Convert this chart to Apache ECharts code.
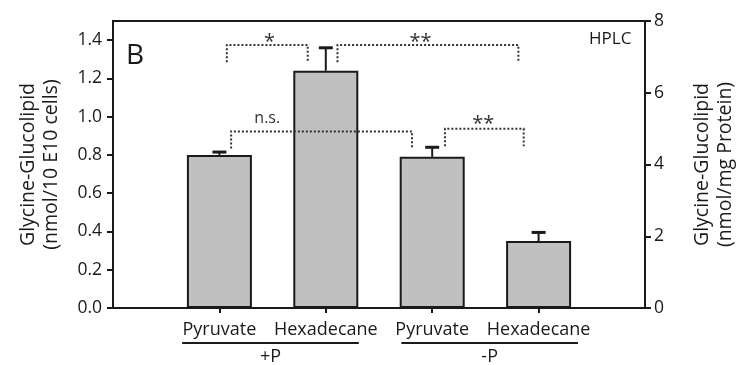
<!DOCTYPE html>
<html>
<head>
<meta charset="utf-8">
<script src="https://cdn.jsdelivr.net/npm/echarts@6/dist/echarts.min.js"></script>
<style>
  html, body { margin: 0; padding: 0; background: #fff; }
  #chart { width: 745px; height: 365px; }
</style>
</head>
<body>
<div id="chart"></div>
<script>
// Glycine-glucolipid content measured by HPLC, +P / -P conditions
const categories = ['Pyruvate', 'Hexadecane', 'Pyruvate', 'Hexadecane'];
const categoryPositions = [1, 2, 3, 4];
const meanValues = [0.80, 1.24, 0.79, 0.35];
const errorValues = [0.015, 0.12, 0.05, 0.045];

const groupNames = ['+P', '-P'];
const groupSpans = [[0.65, 2.31], [2.71, 4.37]];

const leftTicks = [0, 0.2, 0.4, 0.6, 0.8, 1.0, 1.2, 1.4];
const rightTicks = [0, 2, 4, 6, 8];

// significance brackets: x span, bracket level, leg end, label and its anchor
const bracketX0 = [1.07, 2.11, 1.11, 3.12];
const bracketX1 = [1.83, 3.81, 2.81, 3.86];
const bracketTop = [1.375, 1.375, 0.923, 0.937];
const bracketFoot = [1.284, 1.284, 0.833, 0.845];
const bracketLabels = ['*', '**', 'n.s.', '**'];
const bracketLabelX = [1.47, 2.89, 1.45, 3.48];
const bracketLabelY = [1.387, 1.387, 0.992, 0.958];

const FONT = 'Open Sans';
const INK = '#1a1a1a';

const chart = echarts.init(document.getElementById('chart'), null, { renderer: 'canvas' });

const barData = categoryPositions.map((x, i) => [x, meanValues[i]]);
const errData = categoryPositions.map((x, i) => [x, meanValues[i], errorValues[i]]);
const bracketData = bracketLabels.map((lab, i) => [bracketX0[i], bracketX1[i], bracketTop[i], bracketFoot[i], bracketLabelX[i], bracketLabelY[i], i]);
const groupData = groupNames.map((g, i) => [groupSpans[i][0], groupSpans[i][1], i]);

chart.setOption({
  animation: false,
  backgroundColor: '#fff',
  textStyle: { fontFamily: FONT, color: INK },
  grid: {
    left: 113, right: 91, top: 21, bottom: 57,
    show: true, borderColor: INK, borderWidth: 2, backgroundColor: 'transparent'
  },
  xAxis: {
    type: 'value', min: 0, max: 5,
    splitLine: { show: false },
    axisLine: { show: true, lineStyle: { color: INK, width: 2 } },
    axisTick: { show: true, customValues: categoryPositions, length: 5, lineStyle: { color: INK, width: 2 } },
    axisLabel: {
      customValues: categoryPositions, margin: 13,
      fontFamily: FONT, fontSize: 18, color: INK,
      formatter: v => categories[Math.round(v) - 1] || ''
    }
  },
  yAxis: [
    {
      type: 'value', min: 0, max: 1.5, position: 'left',
      splitLine: { show: false },
      axisLine: { show: true, lineStyle: { color: INK, width: 2 } },
      axisTick: { show: true, customValues: leftTicks, length: 6, lineStyle: { color: INK, width: 2 } },
      axisLabel: {
        customValues: leftTicks, margin: 11,
        fontFamily: FONT, fontSize: 17.5, color: INK,
        formatter: v => v.toFixed(1)
      },
      name: 'Glycine-Glucolipid\n(nmol/10 E10 cells)',
      nameLocation: 'middle', nameRotate: 90, nameGap: 50,
      nameTextStyle: { fontFamily: FONT, fontSize: 19.5, color: INK, lineHeight: 23 }
    },
    {
      type: 'value', min: 0, max: 8, interval: 2, position: 'right',
      splitLine: { show: false },
      axisLine: { show: true, lineStyle: { color: INK, width: 2 } },
      axisTick: { show: true, length: 6, lineStyle: { color: INK, width: 2 } },
      axisLabel: { margin: 9, fontFamily: FONT, fontSize: 17.5, color: INK },
      name: 'Glycine-Glucolipid\n(nmol/mg Protein)',
      nameLocation: 'middle', nameRotate: 90, nameGap: 46,
      nameTextStyle: { fontFamily: FONT, fontSize: 19.5, color: INK, lineHeight: 23 }
    }
  ],
  graphic: [
    { type: 'text', left: 126, top: 42, style: { text: 'B', fontFamily: FONT, fontSize: 28, fill: INK } },
    { type: 'text', left: 589, top: 31, style: { text: 'HPLC', fontFamily: FONT, fontSize: 17, fill: INK } }
  ],
  series: [
    {
      type: 'bar', data: barData, barWidth: 65, yAxisIndex: 0,
      itemStyle: { color: '#c0c0c0', borderColor: INK, borderWidth: 2 },
      z: 2
    },
    {
      type: 'custom', yAxisIndex: 0, data: errData, z: 3,
      renderItem: (params, api) => {
        const x = api.value(0), m = api.value(1), e = api.value(2);
        const base = api.coord([x, m]);
        const top = api.coord([x, m + e]);
        return {
          type: 'group',
          children: [
            { type: 'line', shape: { x1: base[0], y1: base[1], x2: top[0], y2: top[1] }, style: { stroke: INK, lineWidth: 2 } },
            { type: 'line', shape: { x1: top[0] - 7, y1: top[1], x2: top[0] + 7, y2: top[1] }, style: { stroke: INK, lineWidth: 3 } }
          ]
        };
      }
    },
    {
      type: 'custom', yAxisIndex: 0, data: bracketData, z: 4, clip: false,
      renderItem: (params, api) => {
        const i = api.value(6);
        const a = api.coord([api.value(0), api.value(3)]);
        const b = api.coord([api.value(0), api.value(2)]);
        const c = api.coord([api.value(1), api.value(2)]);
        const d = api.coord([api.value(1), api.value(3)]);
        const t = api.coord([api.value(4), api.value(5)]);
        const isStar = bracketLabels[i].indexOf('*') === 0;
        return {
          type: 'group',
          children: [
            {
              type: 'polyline',
              shape: { points: [a, b, c, d] },
              style: { stroke: '#333', lineWidth: 2, lineDash: [2, 2], fill: null }
            },
            {
              type: 'text',
              style: {
                x: t[0], y: t[1], text: bracketLabels[i],
                align: 'center', verticalAlign: 'middle',
                fontFamily: FONT, fontSize: isStar ? 20 : 16, fill: '#333'
              }
            }
          ]
        };
      }
    },
    {
      type: 'custom', yAxisIndex: 0, data: groupData, z: 4, clip: false,
      renderItem: (params, api) => {
        const i = api.value(2);
        const p0 = api.coord([api.value(0), 0]);
        const p1 = api.coord([api.value(1), 0]);
        const y = p0[1] + 35;
        return {
          type: 'group',
          children: [
            { type: 'line', shape: { x1: p0[0], y1: y, x2: p1[0], y2: y }, style: { stroke: INK, lineWidth: 2 } },
            {
              type: 'text',
              style: {
                x: (p0[0] + p1[0]) / 2, y: y + 14, text: groupNames[i],
                align: 'center', verticalAlign: 'middle',
                fontFamily: FONT, fontSize: 18, fill: INK
              }
            }
          ]
        };
      }
    }
  ]
});
</script>
</body>
</html>
